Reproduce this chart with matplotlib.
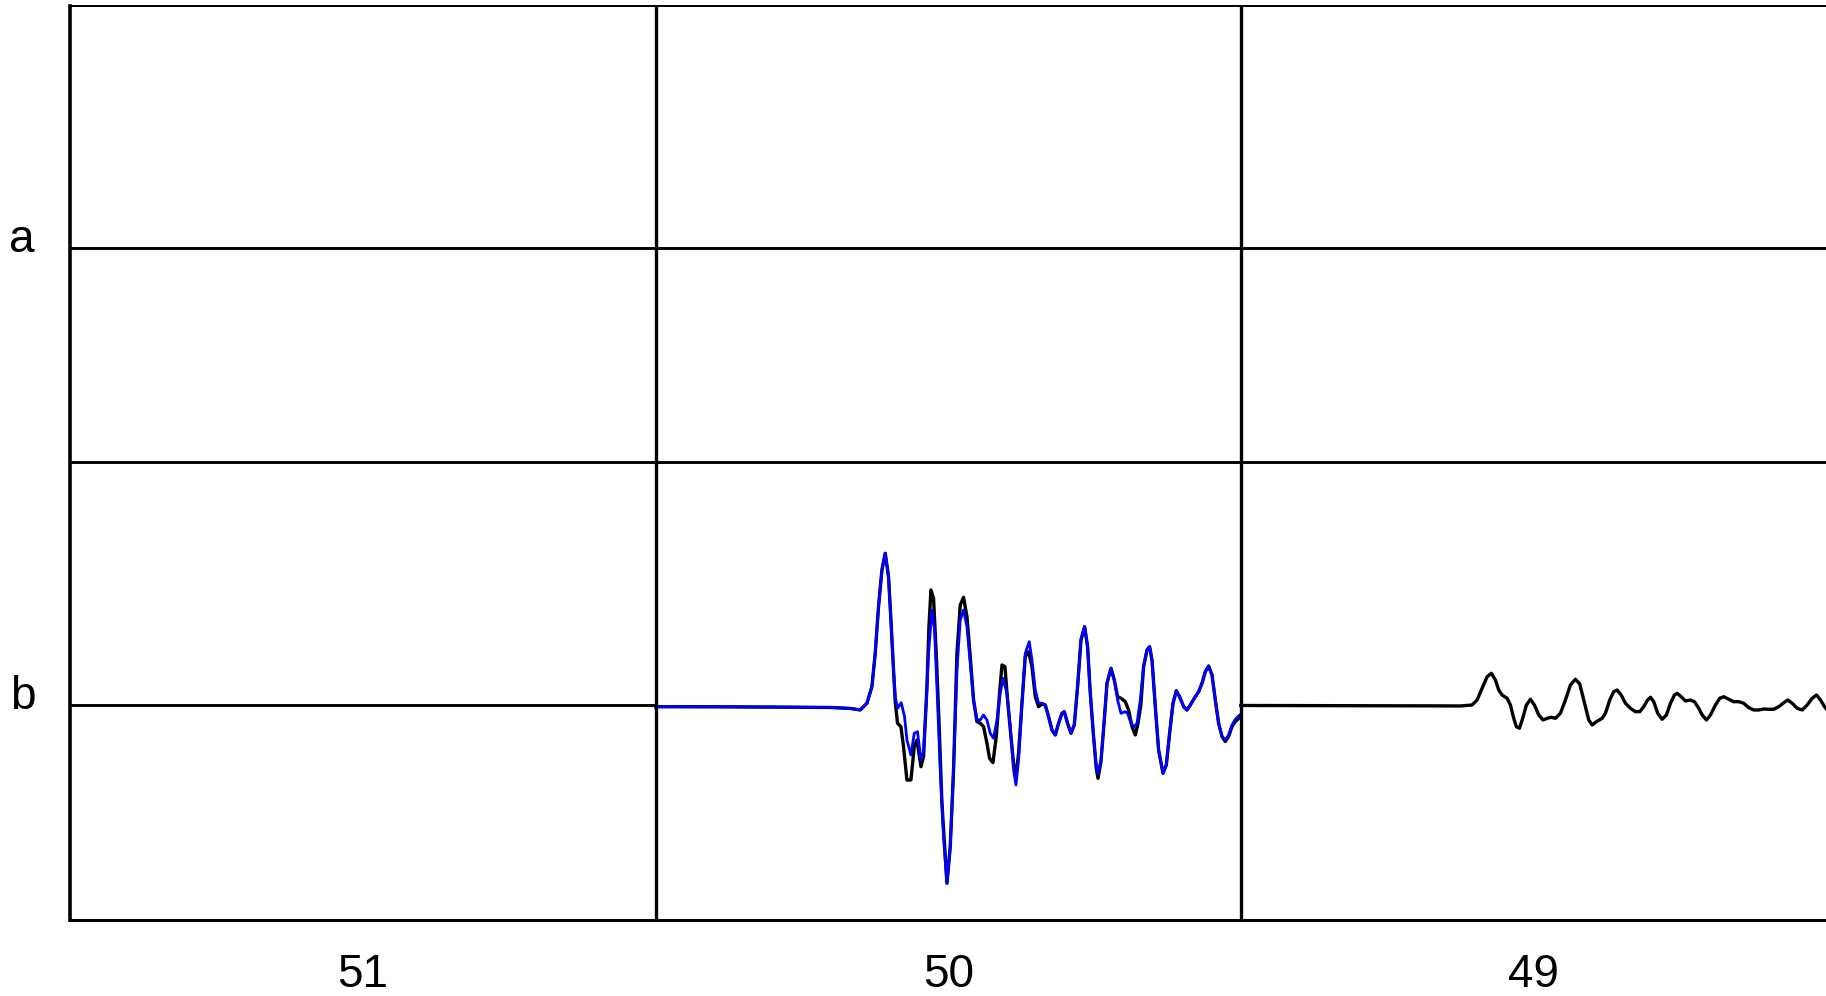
import numpy as np
import matplotlib.pyplot as plt
from matplotlib.transforms import ScaledTranslation

plt.rcParams['font.family'] = ['Liberation Sans', 'DejaVu Sans']

# column labels (left to right) and row labels (top to bottom)
columns = ['51', '50', '49']
rows = ['a', 'b']
samples_per_column = 585

# column 50, row b : black trace
black_t = [0, 60, 120, 175, 195, 204.5, 211.2, 216.2, 219.5, 222.8,
           226.2, 229.5, 232.8, 235.2, 237.8, 239.5, 241.8, 245.2, 247.8, 251.2,
           255.2, 258.5, 261.2, 265.2, 267.8, 271.2, 273.2, 275.2, 277.8, 280.5,
           283.2, 286.2, 291.2, 294.5, 297.8, 301.2, 304.5, 307.8, 311.2, 314.5,
           317.8, 321.2, 324.5, 327.8, 331.2, 333.8, 337.2, 340.5, 343.8, 346.2,
           349.2, 351.8, 355.2, 357.8, 360.2, 362.8, 366.2, 369.5, 372.8, 376.2,
           379.5, 382.8, 386.2, 389.5, 392.8, 396.2, 399.5, 402.8, 406.2, 408.5,
           411.8, 415.2, 418.5, 421.8, 425.2, 428.8, 431.8, 434.5, 437.8, 440.5,
           442.2, 445.2, 448.5, 451.2, 455.2, 458.5, 461.8, 465.2, 469.5, 472.8,
           476.2, 479.5, 482.2, 485.0, 487.8, 491.2, 493.8, 496.2, 499.5, 502.8,
           507.2, 510.5, 513.8, 517.2, 520.5, 523.8, 527.8, 531.2, 534.5, 538.5,
           542.8, 546.2, 549.5, 552.8, 556.2, 559.5, 562.8, 566.2, 569.5, 572.8,
           576.2, 579.5, 583.8, 585]
black_a = [-1.2, -1.3, -1.6, -2.0, -3.0, -4.5, 2.2, 18.8, 52.2, 98.8,
           135.5, 152.2, 128.8, 85.5, 35.5, 3.8, -17.8, -21.2, -41.2, -74.5,
           -74.5, -41.2, -34.5, -61.2, -51.2, 18.8, 78.8, 115.5, 107.2, 52.2,
           -14.5, -97.8, -177.8, -141.2, -64.5, 52.2, 100.5, 108.2, 88.8, 48.8,
           5.5, -16.2, -17.8, -21.2, -37.8, -52.8, -57.2, -31.2, 12.2, 40.5,
           38.8, 5.5, -31.2, -57.8, -71.2, -47.8, 2.2, 48.8, 53.8, 38.8,
           8.8, -1.2, 1.5, 0.5, -11.2, -24.5, -29.5, -17.8, -7.8, -6.2,
           -17.8, -27.8, -19.5, 18.8, 65.5, 78.8, 58.8, 12.2, -31.2, -63.0,
           -72.8, -56.0, -14.5, 22.2, 37.2, 25.5, 8.8, 7.2, 3.8, -4.5,
           -21.2, -29.5, -17.8, 0.0, 38.8, 55.5, 58.8, 45.5, -1.2, -44.5,
           -67.8, -59.5, -27.8, 2.2, 14.8, 8.8, -1.2, -4.5, 0.5, 7.2,
           13.8, 22.2, 33.8, 39.5, 30.5, 5.5, -17.8, -31.2, -36.0, -31.0,
           -21.0, -16.0, -12.0, -11.0]

# column 50, row b : blue trace
blue_t = [0, 60, 120, 175, 195, 204.5, 211.2, 216.2, 219.5, 222.8,
          226.2, 229.5, 232.8, 235.2, 237.8, 239.5, 241.8, 245.5, 248.8, 251.2,
          255.2, 258.5, 261.8, 265.2, 267.8, 270.5, 272.8, 276.2, 278.8, 281.2,
          284.5, 287.8, 291.2, 294.5, 297.8, 301.2, 304.5, 307.8, 311.2, 314.5,
          317.8, 321.2, 324.5, 327.8, 331.2, 334.5, 337.8, 341.2, 344.5, 347.2,
          351.2, 354.5, 357.8, 360.2, 362.8, 366.2, 369.5, 373.5, 376.2, 379.5,
          382.8, 386.2, 389.5, 392.8, 396.2, 399.5, 402.8, 406.2, 408.5, 411.8,
          415.2, 418.5, 421.8, 425.2, 428.8, 431.8, 434.5, 437.8, 440.5, 442.2,
          445.2, 448.5, 451.2, 455.2, 458.5, 461.8, 465.2, 469.5, 471.8, 475.2,
          478.5, 481.2, 484.5, 487.8, 491.2, 493.8, 496.2, 499.5, 502.8, 507.2,
          510.5, 513.8, 517.2, 520.5, 523.8, 527.8, 531.2, 534.5, 538.5, 542.8,
          546.2, 549.5, 552.8, 556.2, 559.5, 562.8, 566.2, 569.5, 572.8, 576.2,
          579.5, 583.8, 585]
blue_a = [-1.2, -1.3, -1.6, -2.0, -3.0, -4.5, 2.2, 18.8, 52.2, 98.8,
          135.5, 152.2, 128.8, 85.5, 35.5, 8.8, -2.8, 2.8, -11.2, -34.5,
          -49.5, -27.8, -26.2, -54.5, -46.2, 2.2, 52.2, 95.5, 75.5, 18.8,
          -64.5, -131.2, -177.8, -141.2, -64.5, 35.5, 85.5, 95.5, 78.8, 42.2,
          5.5, -14.5, -14.5, -9.5, -14.5, -27.8, -32.8, -14.5, 12.2, 27.2,
          12.2, -21.2, -64.5, -79.5, -54.5, 2.2, 52.2, 63.8, 45.5, 15.5,
          2.2, 2.2, 0.5, -11.2, -24.5, -29.5, -17.8, -7.8, -6.2, -17.8,
          -27.8, -19.5, 18.8, 65.5, 78.8, 58.8, 12.2, -31.2, -61.2, -67.8,
          -54.5, -14.5, 22.2, 37.2, 25.5, 5.5, -7.8, -6.2, -7.8, -17.8,
          -21.2, -17.8, 5.5, 38.8, 55.5, 58.8, 45.5, -1.2, -44.5, -67.8,
          -59.5, -27.8, 2.2, 13.8, 8.8, -1.2, -4.5, 0.5, 7.2, 13.8,
          22.2, 33.8, 39.5, 30.5, 5.5, -17.8, -31.2, -34.5, -29.5, -19.5,
          -13.8, -9.5, -9.0]

# column 49, row b : black trace
t49 = [0, 100, 200, 219.5, 231.2, 236.2, 241.2, 246.2, 250.5, 254.5,
       257.8, 261.2, 266.2, 269.5, 272.8, 275.5, 278.5, 281.8, 285.5, 289.5,
       293.5, 297.8, 302.2, 306.2, 310.2, 314.5, 319.5, 324.5, 329.5, 334.5,
       338.8, 344.5, 347.8, 351.2, 355.5, 361.2, 364.5, 368.8, 372.8, 376.2,
       380.2, 384.5, 389.5, 394.5, 398.8, 402.8, 406.2, 409.5, 412.8, 416.8,
       421.2, 425.5, 429.5, 433.5, 436.2, 440.2, 444.5, 449.5, 453.5, 457.8,
       461.2, 465.5, 469.5, 474.5, 478.8, 482.8, 487.8, 492.8, 497.8, 502.8,
       507.8, 512.8, 517.8, 522.8, 527.8, 532.8, 537.8, 542.8, 546.8, 551.2,
       556.2, 561.2, 566.2, 571.2, 575.5, 579.5, 583.5, 585]
a49 = [0.0, -0.2, -0.4, -0.5, 0.5, 5.5, 17.2, 28.8, 32.2, 25.5,
       15.5, 10.5, 7.2, 0.5, -12.8, -21.2, -22.8, -12.8, 0.5, 6.2,
       0.5, -9.5, -14.5, -12.8, -11.8, -12.8, -7.8, 5.5, 20.5, 26.2,
       21.5, -1.2, -14.5, -19.5, -16.2, -12.8, -7.8, 5.5, 13.8, 15.5,
       10.5, 2.2, -2.8, -6.2, -6.2, -1.2, 4.8, 8.2, 3.8, -7.8,
       -13.8, -9.5, 2.2, 10.5, 12.2, 8.8, 4.5, 5.5, 3.8, -2.8,
       -9.5, -14.5, -9.5, 0.5, 7.2, 8.8, 6.2, 3.8, 3.8, 2.2,
       -2.2, -4.5, -4.5, -3.5, -3.8, -3.8, -1.2, 2.8, 5.5, 2.2,
       -2.8, -4.5, 0.5, 7.2, 10.5, 5.5, -1.2, -3.0]

gain = 1 / 457.0
row_offset = {'a': 1, 'b': 0}

fig = plt.figure(figsize=(18.26, 9.96), dpi=100)
ax = fig.add_axes([0.0386, 0.0763, 0.9614, 0.9177])

# empty (flat) traces: whole row a, and column 51 of row b
ncol = len(columns)
ax.hlines(row_offset['a'], 0, ncol * samples_per_column, color='black', lw=2.1, zorder=2)
ax.hlines(row_offset['b'], 0, samples_per_column, color='black', lw=2.1, zorder=2)

# row separator and column separators
ax.axhline(0.532, color='black', lw=2.1, zorder=1)
for i in range(1, ncol):
    ax.axvline(i * samples_per_column, color='black', lw=2.4, zorder=5)

x50 = columns.index('50') * samples_per_column
x49 = columns.index('49') * samples_per_column
ax.plot(x50 + np.array(black_t), row_offset['b'] + np.array(black_a) * gain,
        color='black', lw=2.4, zorder=3)
ax.plot(x50 + np.array(blue_t), row_offset['b'] + np.array(blue_a) * gain,
        color='blue', lw=2.0, zorder=4)
ax.plot(x49 + np.array(t49), row_offset['b'] + np.array(a49) * gain,
        color='black', lw=2.4, zorder=3)

ax.set_xlim(0, samples_per_column * ncol)
ax.set_ylim(-0.4694, 1.5306)
ax.set_xticks([(i + 0.5) * samples_per_column for i in range(ncol)], columns)
ax.set_yticks([row_offset[r] for r in rows], rows, va='baseline')
ax.tick_params(axis='both', length=0, labelsize=33)
ax.tick_params(axis='x', pad=23.5)
ax.tick_params(axis='y', pad=25.5)

# nudge row labels slightly below the trace line
shift = ScaledTranslation(0, -0.035, fig.dpi_scale_trans)
for lab in ax.get_yticklabels():
    lab.set_transform(lab.get_transform() + shift)

ax.spines['right'].set_visible(False)
ax.spines['top'].set_linewidth(1.4)
ax.spines['left'].set_linewidth(2.6)
ax.spines['bottom'].set_linewidth(2.2)

fig.savefig('out.png', dpi=100)
